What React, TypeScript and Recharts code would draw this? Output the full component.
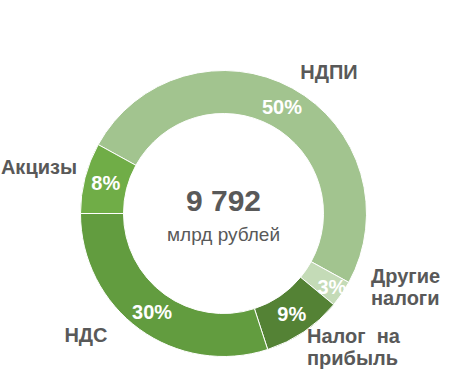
import { PieChart, Pie, Cell } from 'recharts';

const names = ['НДПИ', 'Другие налоги', 'Налог на прибыль', 'НДС', 'Акцизы'];
const shares = [50, 3, 9, 30, 8];
const colors = ['#A2C48F', '#C4DBB7', '#548235', '#629C3F', '#70AD47'];
const total = '9 792';
const unit = 'млрд рублей';

const data = names.map((name, i) => ({ name, value: shares[i] }));

const FONT = '"Liberation Sans", Arial, sans-serif';
const TEXT = '#595959';
const RADIAN = Math.PI / 180;

// outer name labels, placed by hand like the original slide
const nameLabels: Record<string, { x: number; y: number; anchor: 'start' | 'middle' | 'end'; lines: string[] }> = {
  'НДПИ': { x: 329, y: 79, anchor: 'middle', lines: ['НДПИ'] },
  'Другие налоги': { x: 371, y: 283, anchor: 'start', lines: ['Другие', 'налоги'] },
  'Налог на прибыль': { x: 307, y: 343, anchor: 'start', lines: ['Налог\u00A0 на', 'прибыль'] },
  'НДС': { x: 86, y: 342, anchor: 'middle', lines: ['НДС'] },
  'Акцизы': { x: 77, y: 174, anchor: 'end', lines: ['Акцизы'] },
};

function renderLabel(props: any) {
  const { cx, cy, midAngle, innerRadius, outerRadius, value, name } = props;
  const r = value < 5 ? outerRadius - 12 : (innerRadius + outerRadius) / 2;
  const x = cx + r * Math.cos(-midAngle * RADIAN);
  const y = cy + r * Math.sin(-midAngle * RADIAN);
  const n = nameLabels[name];
  return (
    <g>
      <text x={x} y={y} dy={7} textAnchor="middle" fill="#fff" fontSize={20} fontWeight="bold" fontFamily={FONT}>
        {value}%
      </text>
      {n && (
        <text x={n.x} y={n.y} textAnchor={n.anchor} fill={TEXT} fontSize={20} fontWeight="bold" fontFamily={FONT}>
          {n.lines.map((line, i) => (
            <tspan key={i} x={n.x} dy={i === 0 ? 0 : 22}>
              {line}
            </tspan>
          ))}
        </text>
      )}
    </g>
  );
}

export default function App() {
  return (
    <div style={{ position: 'absolute', left: 0, top: 0, background: '#fff' }}>
      <PieChart width={459} height={389} margin={{ top: 0, right: 0, bottom: 0, left: 0 }}>
        <Pie
          data={data}
          dataKey="value"
          nameKey="name"
          cx={223.5}
          cy={213.5}
          innerRadius={100}
          outerRadius={143}
          startAngle={151.2}
          endAngle={-208.8}
          stroke="#fff"
          strokeWidth={1}
          label={renderLabel}
          labelLine={false}
          isAnimationActive={false}
        >
          {data.map((d, i) => (
            <Cell key={d.name} fill={colors[i]} />
          ))}
        </Pie>
        <text x={223.5} y={211} textAnchor="middle" fill={TEXT} fontSize={30} fontWeight="bold" fontFamily={FONT}>
          {total}
        </text>
        <text x={223.5} y={241} textAnchor="middle" fill={TEXT} fontSize={19} fontFamily={FONT}>
          {unit}
        </text>
      </PieChart>
    </div>
  );
}
